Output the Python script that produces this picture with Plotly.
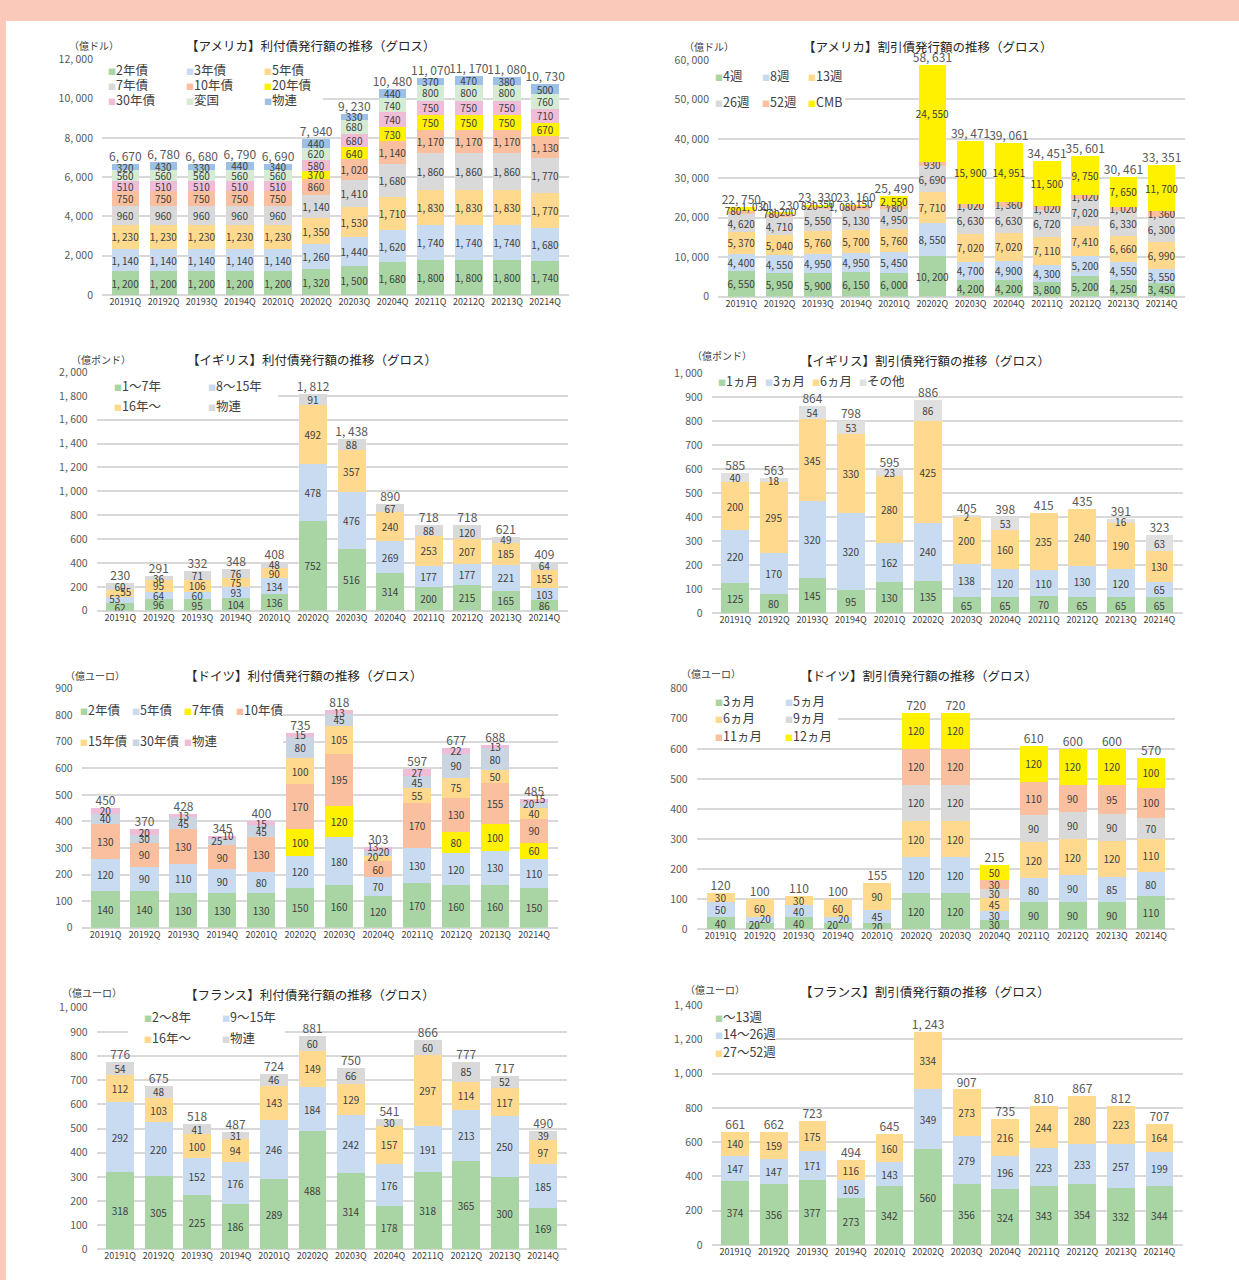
import plotly.graph_objects as go

W, H = 1239, 1280

quarters = ['20191Q', '20192Q', '20193Q', '20194Q', '20201Q', '20202Q',
            '20203Q', '20204Q', '20211Q', '20212Q', '20213Q', '20214Q']

# colours used by the series
GREEN = '#A9D5A5'
LBLUE = '#C8DBF0'
ORANGE = '#FFDA8E'
GRAY = '#D9D9D9'
SALMON = '#F9BF9F'
YELLOW = '#FFF100'
PINK = '#F0BDD9'
PGREEN = '#D5EBD3'
BLUE = '#9CC0E6'
SLATE = '#C9D6E1'

# ---- アメリカ 利付債
us_cpn_2y = [1200, 1200, 1200, 1200, 1200, 1320, 1500, 1680, 1800, 1800, 1800, 1740]
us_cpn_3y = [1140, 1140, 1140, 1140, 1140, 1260, 1440, 1620, 1740, 1740, 1740, 1680]
us_cpn_5y = [1230, 1230, 1230, 1230, 1230, 1350, 1530, 1710, 1830, 1830, 1830, 1770]
us_cpn_7y = [960, 960, 960, 960, 960, 1140, 1410, 1680, 1860, 1860, 1860, 1770]
us_cpn_10y = [750, 750, 750, 750, 750, 860, 1020, 1140, 1170, 1170, 1170, 1130]
us_cpn_20y = [0, 0, 0, 0, 0, 370, 640, 730, 750, 750, 750, 670]
us_cpn_30y = [510, 510, 510, 510, 510, 580, 680, 740, 750, 750, 750, 710]
us_cpn_frn = [560, 560, 560, 560, 560, 620, 680, 740, 800, 800, 800, 760]
us_cpn_tips = [320, 430, 330, 440, 340, 440, 330, 440, 370, 470, 380, 500]
us_cpn_total = [6670, 6780, 6680, 6790, 6690, 7940, 9230, 10480, 11070, 11170, 11080, 10730]

# ---- アメリカ 割引債
us_disc_4w = [6550, 5950, 5900, 6150, 6000, 10200, 4200, 4200, 3800, 5200, 4250, 3450]
us_disc_8w = [4400, 4550, 4950, 4950, 5450, 8550, 4700, 4900, 4300, 5200, 4550, 3550]
us_disc_13w = [5370, 5040, 5760, 5700, 5760, 7710, 7020, 7020, 7110, 7410, 6660, 6990]
us_disc_26w = [4620, 4710, 5550, 5130, 4950, 6690, 6630, 6630, 6720, 7020, 6330, 6300]
us_disc_52w = [780, 780, 820, 1080, 780, 930, 1020, 1360, 1020, 1020, 1020, 1360]
us_disc_cmb = [1030, 200, 350, 150, 2550, 24550, 15900, 14951, 11500, 9750, 7650, 11700]
us_disc_total = [22750, 21230, 23330, 23160, 25490, 58631, 39471, 39061, 34451, 35601, 30461, 33351]

# ---- イギリス 利付債
uk_cpn_short = [62, 96, 95, 104, 136, 752, 516, 314, 200, 215, 165, 86]
uk_cpn_medium = [53, 64, 60, 93, 134, 478, 476, 269, 177, 177, 221, 103]
uk_cpn_long = [55, 95, 106, 75, 90, 492, 357, 240, 253, 207, 185, 155]
uk_cpn_linker = [60, 36, 71, 76, 48, 91, 88, 67, 88, 120, 49, 64]
uk_cpn_total = [230, 291, 332, 348, 408, 1812, 1438, 890, 718, 718, 621, 409]

# ---- イギリス 割引債
uk_disc_1m = [125, 80, 145, 95, 130, 135, 65, 65, 70, 65, 65, 65]
uk_disc_3m = [220, 170, 320, 320, 162, 240, 138, 120, 110, 130, 120, 65]
uk_disc_6m = [200, 295, 345, 330, 280, 425, 200, 160, 235, 240, 190, 130]
uk_disc_other = [40, 18, 54, 53, 23, 86, 2, 53, 0, 0, 16, 63]
uk_disc_total = [585, 563, 864, 798, 595, 886, 405, 398, 415, 435, 391, 323]

# ---- ドイツ 利付債
de_cpn_2y = [140, 140, 130, 130, 130, 150, 160, 120, 170, 160, 160, 150]
de_cpn_5y = [120, 90, 110, 90, 80, 120, 180, 70, 130, 120, 130, 110]
de_cpn_7y = [0, 0, 0, 0, 0, 100, 120, 0, 0, 80, 100, 60]
de_cpn_10y = [130, 90, 130, 90, 130, 170, 195, 60, 170, 130, 155, 90]
de_cpn_15y = [0, 0, 0, 0, 0, 100, 105, 20, 55, 75, 50, 40]
de_cpn_30y = [40, 30, 45, 25, 45, 80, 45, 20, 45, 90, 80, 20]
de_cpn_linker = [20, 20, 13, 10, 15, 15, 13, 13, 27, 22, 13, 15]
de_cpn_total = [450, 370, 428, 345, 400, 735, 818, 303, 597, 677, 688, 485]

# ---- ドイツ 割引債
de_disc_3m = [40, 20, 40, 20, 20, 120, 120, 30, 90, 90, 90, 110]
de_disc_5m = [50, 20, 40, 20, 45, 120, 120, 30, 80, 90, 85, 80]
de_disc_6m = [30, 60, 30, 60, 90, 120, 120, 45, 120, 120, 120, 110]
de_disc_9m = [0, 0, 0, 0, 0, 120, 120, 30, 90, 90, 90, 70]
de_disc_11m = [0, 0, 0, 0, 0, 120, 120, 30, 110, 90, 95, 100]
de_disc_12m = [0, 0, 0, 0, 0, 120, 120, 50, 120, 120, 120, 100]
de_disc_total = [120, 100, 110, 100, 155, 720, 720, 215, 610, 600, 600, 570]

# ---- フランス 利付債
fr_cpn_short = [318, 305, 225, 186, 289, 488, 314, 178, 318, 365, 300, 169]
fr_cpn_medium = [292, 220, 152, 176, 246, 184, 242, 176, 191, 213, 250, 185]
fr_cpn_long = [112, 103, 100, 94, 143, 149, 129, 157, 297, 114, 117, 97]
fr_cpn_linker = [54, 48, 41, 31, 46, 60, 66, 30, 60, 85, 52, 39]
fr_cpn_total = [776, 675, 518, 487, 724, 881, 750, 541, 866, 777, 717, 490]

# ---- フランス 割引債
fr_disc_short = [374, 356, 377, 273, 342, 560, 356, 324, 343, 354, 332, 344]
fr_disc_medium = [147, 147, 171, 105, 143, 349, 279, 196, 223, 233, 257, 199]
fr_disc_long = [140, 159, 175, 116, 160, 334, 273, 216, 244, 280, 223, 164]
fr_disc_total = [661, 662, 723, 494, 645, 1243, 907, 735, 810, 867, 812, 707]


def fmt(v):
    return f'{v:,}'.replace(',', ', ')


# each panel: series, totals, axis, and where things sit on the page (px)
panels = [
    dict(title='【アメリカ】利付債発行額の推移（グロス）', unit='（億ドル）',
         series=[('2年債', us_cpn_2y, GREEN), ('3年債', us_cpn_3y, LBLUE), ('5年債', us_cpn_5y, ORANGE),
                 ('7年債', us_cpn_7y, GRAY), ('10年債', us_cpn_10y, SALMON), ('20年債', us_cpn_20y, YELLOW),
                 ('30年債', us_cpn_30y, PINK), ('変国', us_cpn_frn, PGREEN), ('物連', us_cpn_tips, BLUE)],
         total=us_cpn_total, ymax=12000, dtick=2000,
         box=(102, 568.5, 59.3, 295), tpos=(310, 45), upos=(94, 46),
         leg=dict(x=106, y=69.3, dx=78, dy=15, ncol=3), lbox=(102, 323, 62, 106)),
    dict(title='【アメリカ】割引債発行額の推移（グロス）', unit='（億ドル）',
         series=[('4週', us_disc_4w, GREEN), ('8週', us_disc_8w, LBLUE), ('13週', us_disc_13w, ORANGE),
                 ('26週', us_disc_26w, GRAY), ('52週', us_disc_52w, SALMON), ('CMB', us_disc_cmb, YELLOW)],
         total=us_disc_total, ymax=60000, dtick=10000,
         box=(718, 1185, 60, 296.7), tpos=(927, 46.7), upos=(709, 46.7),
         leg=dict(x=713.3, y=76, dx=46.3, dy=25.7, ncol=3), lbox=(718, 845, 64, 112)),
    dict(title='【イギリス】利付債発行額の推移（グロス）', unit='（億ポンド）',
         series=[('1～7年', uk_cpn_short, GREEN), ('8～15年', uk_cpn_medium, LBLUE),
                 ('16年～', uk_cpn_long, ORANGE), ('物連', uk_cpn_linker, GRAY)],
         total=uk_cpn_total, ymax=2000, dtick=200,
         box=(96.7, 568, 372, 610.7), tpos=(312, 359), upos=(101, 359),
         leg=dict(x=111.7, y=385, dx=94, dy=21, ncol=2), lbox=(96.7, 278, 375, 417)),
    dict(title='【イギリス】割引債発行額の推移（グロス）', unit='（億ポンド）',
         series=[('1ヵ月', uk_disc_1m, GREEN), ('3ヵ月', uk_disc_3m, LBLUE),
                 ('6ヵ月', uk_disc_6m, ORANGE), ('その他', uk_disc_other, '#E0E0E0')],
         total=uk_disc_total, ymax=1000, dtick=100,
         box=(711.7, 1183, 373, 613), tpos=(925, 360), upos=(722, 355.7),
         leg=dict(x=716, y=381, dx=47, dy=20, ncol=4), lbox=(711.7, 907, 365, 393)),
    dict(title='【ドイツ】利付債発行額の推移（グロス）', unit='（億ユーロ）',
         series=[('2年債', de_cpn_2y, GREEN), ('5年債', de_cpn_5y, LBLUE), ('7年債', de_cpn_7y, YELLOW),
                 ('10年債', de_cpn_10y, SALMON), ('15年債', de_cpn_15y, ORANGE),
                 ('30年債', de_cpn_30y, SLATE), ('物連', de_cpn_linker, PINK)],
         total=de_cpn_total, ymax=900, dtick=100,
         box=(81.7, 558, 688.7, 927.7), tpos=(304, 675.3), upos=(95, 675),
         leg=dict(x=78.3, y=709.7, dx=52, dy=30.6, ncol=4), lbox=(81.7, 283, 697, 755)),
    dict(title='【ドイツ】割引債発行額の推移（グロス）', unit='（億ユーロ）',
         series=[('3ヵ月', de_disc_3m, GREEN), ('5ヵ月', de_disc_5m, LBLUE), ('6ヵ月', de_disc_6m, ORANGE),
                 ('9ヵ月', de_disc_9m, GRAY), ('11ヵ月', de_disc_11m, SALMON), ('12ヵ月', de_disc_12m, YELLOW)],
         total=de_disc_total, ymax=800, dtick=100,
         box=(696.7, 1175, 688.7, 929.3), tpos=(919, 675.3), upos=(711, 673),
         leg=dict(x=712.7, y=700.3, dx=70, dy=17.5, ncol=2), lbox=(696.7, 838, 692, 744)),
    dict(title='【フランス】利付債発行額の推移（グロス）', unit='（億ユーロ）',
         series=[('2～8年', fr_cpn_short, GREEN), ('9～15年', fr_cpn_medium, LBLUE),
                 ('16年～', fr_cpn_long, ORANGE), ('物連', fr_cpn_linker, GRAY)],
         total=fr_cpn_total, ymax=1000, dtick=100,
         box=(96.7, 566.7, 1007.7, 1249.3), tpos=(310, 994), upos=(92, 992.3),
         leg=dict(x=142.3, y=1016.7, dx=78, dy=20.6, ncol=2), lbox=(128, 285, 1003, 1047)),
    dict(title='【フランス】割引債発行額の推移（グロス）', unit='（億ユーロ）',
         series=[('～13週', fr_disc_short, GREEN), ('14～26週', fr_disc_medium, LBLUE),
                 ('27～52週', fr_disc_long, ORANGE)],
         total=fr_disc_total, ymax=1400, dtick=200,
         box=(711.7, 1183, 1005, 1245), tpos=(925, 991.7), upos=(715, 989.3),
         leg=dict(x=712.7, y=1016, dx=70, dy=17.5, ncol=1), lbox=(711.7, 776, 1007, 1062)),
]

FONT = 'Noto Sans CJK JP'
SMALL_PX = 7  # segments thinner than this get their label pushed to the side

fig = go.Figure()
layout = dict(width=W, height=H,
              margin=dict(l=0, r=0, t=0, b=0, pad=0, autoexpand=False),
              paper_bgcolor='#FAC9B9', plot_bgcolor='rgba(0,0,0,0)',
              font=dict(family=FONT, color='#404040'),
              barmode='stack', bargap=0.28, showlegend=False,
              uniformtext=dict(minsize=10, mode='show'))
annotations = []
shapes = [dict(type='rect', xref='paper', yref='paper', x0=6 / W, x1=1, y0=0, y1=1 - 21 / H,
               fillcolor='white', line_width=0, layer='below')]

for i, p in enumerate(panels, start=1):
    sfx = '' if i == 1 else str(i)
    xa, ya = 'x' + sfx, 'y' + sfx
    x0, x1, yt, yb = p['box']
    px_per_unit = (yb - yt) / p['ymax']

    # which segments are too thin: if two or more thin ones sit in a bar,
    # their labels alternate left / right of the bar like Excel does
    nser = len(p['series'])
    side = [[None] * len(quarters) for _ in range(nser)]
    for q in range(len(quarters)):
        thin = [s for s in range(nser)
                if 0 < p['series'][s][1][q] * px_per_unit < SMALL_PX]
        if len(thin) >= 2:
            for n, s in enumerate(thin):
                side[s][q] = 'middle left' if n % 2 == 0 else 'middle right'

    side_x, side_y, side_t, side_pos = [], [], [], []
    base = [0] * len(quarters)
    for s, (name, vals, color) in enumerate(p['series']):
        txt = []
        for q, v in enumerate(vals):
            if v and side[s][q]:
                side_x.append(quarters[q])
                side_y.append(base[q] + v / 2)
                side_t.append(fmt(v))
                side_pos.append(side[s][q])
                txt.append('')
            else:
                txt.append(fmt(v) if v else '')
            base[q] += v
        fig.add_trace(go.Bar(
            x=quarters, y=[v if v else None for v in vals], name=name,
            xaxis=xa, yaxis=ya, marker=dict(color=color, line_width=0),
            text=txt, textposition='inside',
            insidetextanchor='middle', textangle=0,
            textfont=dict(size=10, color='#404040'), hoverinfo='skip'))

    if side_x:
        fig.add_trace(go.Scatter(
            x=side_x, y=side_y, xaxis=xa, yaxis=ya, mode='text',
            text=side_t, textposition=side_pos,
            textfont=dict(size=10, color='#404040'), cliponaxis=False, hoverinfo='skip'))

    fig.add_trace(go.Scatter(
        x=quarters, y=p['total'], xaxis=xa, yaxis=ya, mode='text',
        text=[fmt(t) for t in p['total']], textposition='top center',
        textfont=dict(size=12, color='#595959'), cliponaxis=False, hoverinfo='skip'))

    ticks = list(range(0, p['ymax'] + 1, p['dtick']))
    layout['xaxis' + sfx] = dict(domain=[x0 / W, x1 / W], anchor=ya, type='category',
                                 showgrid=False, ticks='', showline=False, automargin=False,
                                 tickfont=dict(size=9, color='#404040'))
    layout['yaxis' + sfx] = dict(domain=[1 - yb / H, 1 - yt / H], anchor=xa,
                                 range=[0, p['ymax']], tickvals=ticks,
                                 ticktext=[fmt(t) for t in ticks], automargin=False,
                                 showgrid=True, gridcolor='#D9D9D9', gridwidth=1.5,
                                 zeroline=True, zerolinecolor='#D9D9D9', zerolinewidth=1.5,
                                 ticks='', ticklabelstandoff=8,
                                 tickfont=dict(size=10.5, color='#595959'))

    annotations.append(dict(text=p['title'], xref='paper', yref='paper',
                            x=p['tpos'][0] / W, y=1 - p['tpos'][1] / H,
                            xanchor='center', yanchor='middle', showarrow=False,
                            font=dict(size=12.5, color='#262626')))
    annotations.append(dict(text=p['unit'], xref='paper', yref='paper',
                            x=p['upos'][0] / W, y=1 - p['upos'][1] / H,
                            xanchor='center', yanchor='middle', showarrow=False,
                            font=dict(size=10, color='#404040')))

    # legend: white box over the gridlines, then coloured squares + names
    bx0, bx1, by0, by1 = p['lbox']
    shapes.append(dict(type='rect', xref='paper', yref='paper',
                       x0=bx0 / W, x1=bx1 / W, y0=1 - by1 / H, y1=1 - by0 / H,
                       fillcolor='white', line_width=0, layer='above'))
    lg = p['leg']
    for k, (name, vals, color) in enumerate(p['series']):
        col, row = k % lg['ncol'], k // lg['ncol']
        annotations.append(dict(
            text=f'<span style="color:{color};font-size:8px">■</span>{name}',
            xref='paper', yref='paper',
            x=(lg['x'] + col * lg['dx']) / W, y=1 - (lg['y'] + row * lg['dy']) / H,
            xanchor='left', yanchor='middle', showarrow=False,
            font=dict(size=12.5, color='#404040')))

layout['annotations'] = annotations
layout['shapes'] = shapes
fig.update_layout(**layout)

fig.write_html("out.html", config={'displayModeBar': False},
               post_script="document.body.style.margin='0';document.body.style.overflow='hidden';")
